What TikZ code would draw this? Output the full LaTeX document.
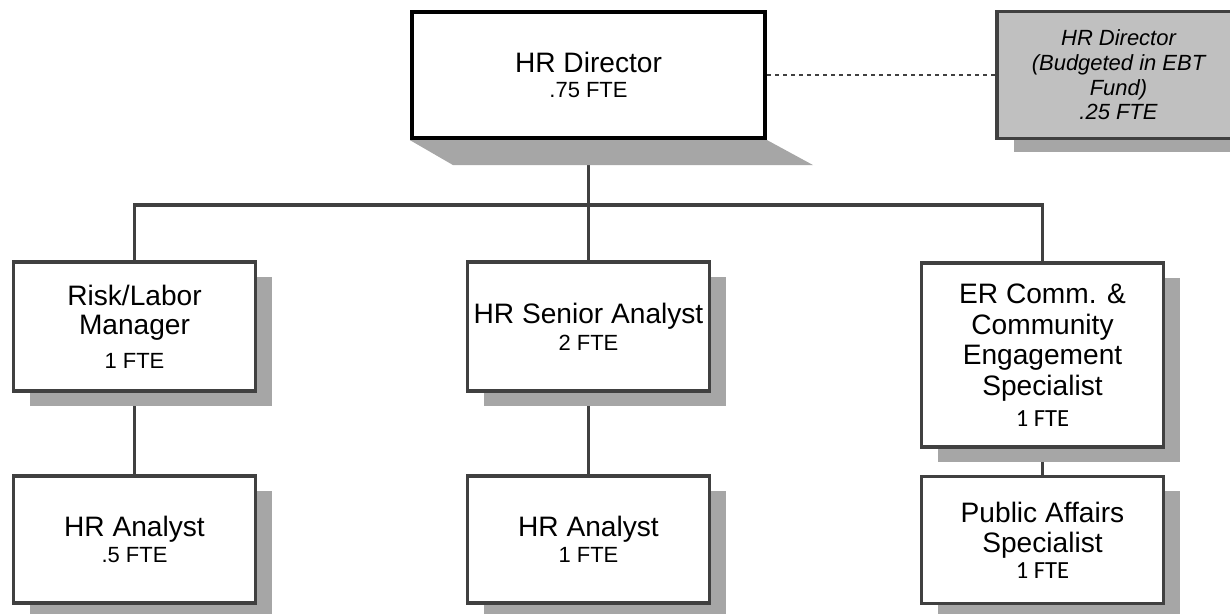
\documentclass[tikz,border=0pt]{standalone}
\usepackage{fontspec}
\setmainfont{Liberation Sans}
\newfontfamily\calfont{Carlito}
\usetikzlibrary{shadows,backgrounds}
\definecolor{linegray}{HTML}{404040}
\definecolor{shadegray}{HTML}{A6A6A6}
\definecolor{sidegray}{HTML}{C0C0C0}
\newcommand{\fte}{\fontsize{12.5}{14}\selectfont}
\newcommand{\ftec}{\calfont\fontsize{14}{15}\selectfont}

\begin{document}
\begin{tikzpicture}[conn/.style={draw=linegray, line width=1.8pt},
        box node/.style={rectangle, draw=linegray, line width=1.8pt, fill=white, align=center,
            minimum width=4.84cm, minimum height=2.58cm, inner sep=2pt,
            font=\fontsize{16}{17.5}\selectfont,
            general shadow={fill=shadegray, shadow xshift=0.33cm, shadow yshift=-0.29cm}},
        boss node/.style={rectangle, draw=black, line width=2.4pt, fill=white, align=center,
            minimum width=7.06cm, minimum height=2.52cm, inner sep=2pt,
            font=\fontsize{16}{17.5}\selectfont},
        side node/.style={rectangle, draw=linegray, line width=1.8pt, fill=sidegray, align=center,
            minimum width=4.86cm, minimum height=2.54cm, inner sep=2pt,
            font=\itshape\fontsize{12.5}{14}\selectfont,
            general shadow={fill=shadegray, shadow xshift=0.33cm, shadow yshift=-0.27cm}}]
                \useasboundingbox (0,0) rectangle (24.6,-12.26);

                \node[boss node] at (11.77, -1.5) (dir) {HR Director\\[-3pt]{\fte .75 FTE}};
                \node[side node] at (22.37, -1.5) (ebt) {HR Director\\(Budgeted in EBT\\Fund)\\.25 FTE};

                \node[box node] at (2.69, -6.53) (risk) {Risk/Labor\\[-1pt]Manager\\[2pt]{\fte 1 FTE}};
                \node[box node] at (11.77, -6.53) (senior) {HR Senior Analyst\\[-2pt]{\fte 2 FTE}};
                \node[box node, minimum height=3.68cm] at (20.85, -7.1) (er) {ER Comm. \&\\Community\\Engagement\\Specialist\\{\ftec 1 FTE}};

                \node[box node, minimum height=2.54cm] at (2.69, -10.79) (ana1) {HR Analyst\\[-3pt]{\fte .5 FTE}};
                \node[box node, minimum height=2.54cm] at (11.77, -10.79) (ana2) {HR Analyst\\[-3pt]{\fte 1 FTE}};
                \node[box node, minimum height=2.54cm] at (20.85, -10.8) (pa) {Public Affairs\\Specialist\\[-3pt]{\ftec 1 FTE}};

                \coordinate (bus) at (11.77, -4.1);

                \begin{scope}[on background layer]
                    \draw[conn] (dir.south) -- (bus);
                    \draw[conn] (risk.north) |- (bus) -| (er.north);
                    \draw[conn] (bus) -- (senior.north);
                    \draw[conn] (risk.south) -- (ana1.north);
                    \draw[conn] (senior.south) -- (ana2.north);
                    \draw[conn] (er.south) -- (pa.north);
                    \draw[linegray, line width=1.1pt, dash pattern=on 0.08cm off 0.08cm] (dir.east) -- (ebt.west);
                \end{scope}

                % perspective shadow under the director box
                \fill[shadegray] (dir.south west) -- (dir.south east) -- ++(0.92,-0.5) -- ++(-7.2,0) -- cycle;
            \end{tikzpicture}
\end{document}
